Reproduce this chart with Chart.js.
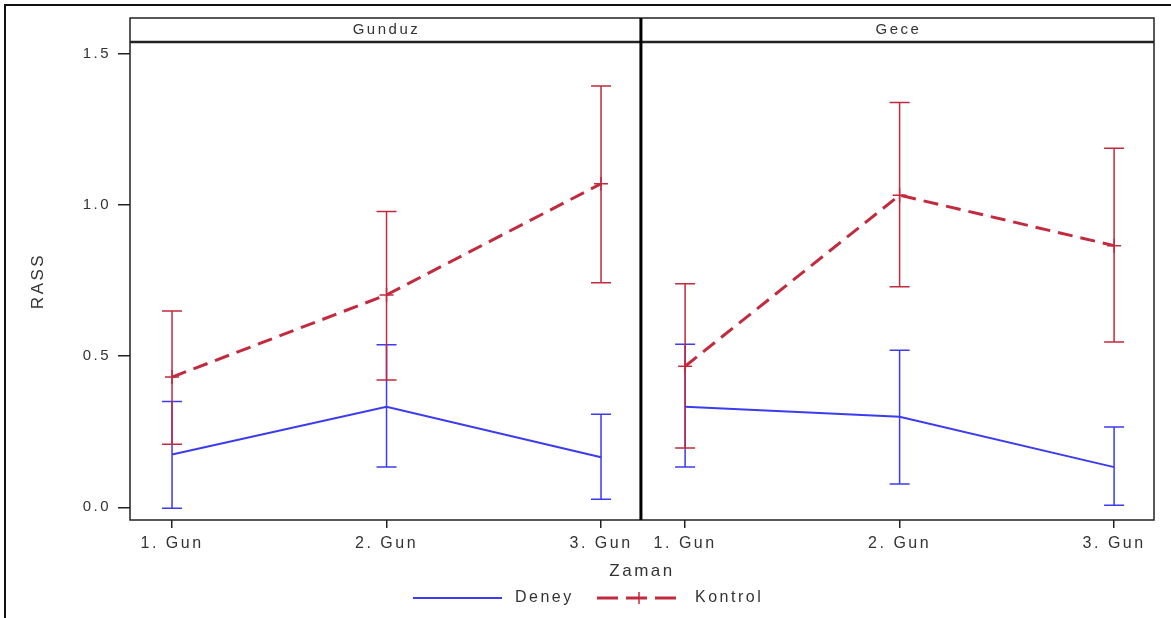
<!DOCTYPE html>
<html>
<head>
<meta charset="utf-8">
<script src="https://cdn.jsdelivr.net/npm/chart.js@4"></script>
<style>
  html, body { margin: 0; padding: 0; background: #fff; }
  #wrap { position: relative; width: 1171px; height: 618px; }
  #frame { position: absolute; left: 4px; top: 4px; width: 1170px; height: 620px;
           border-top: 2px solid #111; border-left: 2px solid #111; pointer-events: none; }
</style>
</head>
<body>
<div id="wrap">
  <canvas id="chart" width="1171" height="618"></canvas>
  <div id="frame"></div>
</div>
<script>
const categories = ['1. Gun', '2. Gun', '3. Gun'];
const panels = ['Gunduz', 'Gece'];

// means per panel (Gunduz, Gece)
const deneyMean = [[0.175, 0.333, 0.166], [0.333, 0.300, 0.133]];
const deneyLow  = [[-0.003, 0.133, 0.027], [0.133, 0.077, 0.007]];
const deneyHigh = [[0.350, 0.538, 0.308], [0.540, 0.520, 0.266]];

const kontrolMean = [[0.431, 0.703, 1.071], [0.467, 1.033, 0.866]];
const kontrolLow  = [[0.209, 0.421, 0.743], [0.196, 0.730, 0.547]];
const kontrolHigh = [[0.650, 0.979, 1.394], [0.740, 1.340, 1.188]];

const yTicks = [0, 0.5, 1.0, 1.5];

const BLUE = '#3b3bef';
const RED = '#c22a3e';
const TXT = '#333333';
const FONT = '"Liberation Sans", Arial, sans-serif';
const SPACING = '2.5px';

// second panel is shifted along the x axis
const panelShift = 2.392;
const dividerX = 2.186;
const xPos = (p, i) => i + p * panelShift;

function series(means, p) {
    return means[p].map((v, i) => ({ x: xPos(p, i), y: v }));
}

const datasets = [];
panels.forEach((name, p) => {
    datasets.push({
        label: 'Deney', data: series(deneyMean, p),
        borderColor: BLUE, borderWidth: 2, pointRadius: 0,
        low: deneyLow[p], high: deneyHigh[p], panel: p
    });
    datasets.push({
        label: 'Kontrol', data: series(kontrolMean, p),
        borderColor: RED, borderWidth: 3, borderDash: [15, 8],
        pointStyle: 'cross', pointRadius: 7, pointBorderWidth: 1.5,
        pointBorderColor: RED, pointBackgroundColor: RED,
        low: kontrolLow[p], high: kontrolHigh[p], panel: p
    });
});

const panelPlugin = {
    id: 'panels',
    beforeDraw(chart) {
        // wide SAS-style lettering for all canvas text
        chart.ctx.letterSpacing = SPACING;
    },
    beforeDatasetsDraw(chart) {
        const ctx = chart.ctx;
        const x = chart.scales.x, y = chart.scales.y;
        // error bars
        chart.data.datasets.forEach(ds => {
            ctx.save();
            ctx.strokeStyle = ds.borderColor;
            ctx.lineWidth = 1.5;
            ds.data.forEach((pt, i) => {
                const px = x.getPixelForValue(pt.x);
                const lo = y.getPixelForValue(ds.low[i]);
                const hi = y.getPixelForValue(ds.high[i]);
                ctx.beginPath();
                ctx.moveTo(px, lo); ctx.lineTo(px, hi);
                ctx.moveTo(px - 10, lo); ctx.lineTo(px + 10, lo);
                ctx.moveTo(px - 10, hi); ctx.lineTo(px + 10, hi);
                ctx.stroke();
            });
            ctx.restore();
        });
    },
    afterDraw(chart) {
        const ctx = chart.ctx;
        const a = chart.chartArea;
        const x = chart.scales.x;
        const div = x.getPixelForValue(dividerX);
        const stripTop = a.top - 24;
        ctx.save();
        ctx.letterSpacing = SPACING;
        // panel frame + header strip
        ctx.strokeStyle = '#222';
        ctx.lineWidth = 1.5;
        ctx.strokeRect(a.left, stripTop, a.right - a.left, a.bottom - stripTop);
        ctx.lineWidth = 2.5;
        ctx.beginPath();
        ctx.moveTo(a.left, a.top); ctx.lineTo(a.right, a.top);
        ctx.stroke();
        ctx.strokeStyle = '#000';
        ctx.lineWidth = 3;
        ctx.beginPath();
        ctx.moveTo(div, stripTop); ctx.lineTo(div, a.bottom);
        ctx.stroke();
        // header labels
        ctx.fillStyle = TXT;
        ctx.font = '15px ' + FONT;
        ctx.textAlign = 'center';
        ctx.textBaseline = 'middle';
        ctx.fillText(panels[0], (a.left + div) / 2 + 1, stripTop + 12);
        ctx.fillText(panels[1], (div + a.right) / 2 + 1, stripTop + 12);

        // legend
        const ly = 598;
        ctx.font = '16px ' + FONT;
        ctx.textAlign = 'left';
        ctx.strokeStyle = BLUE;
        ctx.lineWidth = 2;
        ctx.beginPath(); ctx.moveTo(413, ly); ctx.lineTo(502, ly); ctx.stroke();
        ctx.fillText('Deney', 515, ly);
        ctx.strokeStyle = RED;
        ctx.lineWidth = 3;
        ctx.setLineDash([21, 8]);
        ctx.beginPath(); ctx.moveTo(597, ly); ctx.lineTo(678, ly); ctx.stroke();
        ctx.setLineDash([]);
        ctx.lineWidth = 1.5;
        ctx.beginPath(); ctx.moveTo(639, ly - 6); ctx.lineTo(639, ly + 6); ctx.stroke();
        ctx.fillText('Kontrol', 695, ly);
        ctx.restore();
    }
};

new Chart(document.getElementById('chart'), {
    type: 'line',
    data: { datasets },
    options: {
        responsive: false,
        animation: false,
        layout: { padding: { top: 42, right: 17, left: 0, bottom: 0 } },
        plugins: { legend: { display: false }, tooltip: { enabled: false } },
        scales: {
            x: {
                type: 'linear',
                min: -0.196, max: 4.578,
                afterFit(s) { s.height = 98; },
                afterBuildTicks(s) {
                    s.ticks = panels.flatMap((_, p) => categories.map((c, i) => ({ value: xPos(p, i) })));
                },
                ticks: {
                    autoSkip: false, maxRotation: 0, padding: 6,
                    color: TXT, font: { family: FONT, size: 16 },
                    callback: (v, i) => categories[i % categories.length]
                },
                grid: { drawOnChartArea: false, tickLength: 8, color: '#222', lineWidth: 1.5 },
                border: { display: false },
                title: { display: true, text: 'Zaman', color: TXT,
                         font: { family: FONT, size: 17 }, padding: { top: 0, bottom: 36 } }
            },
            y: {
                min: -0.042, max: 1.54,
                afterFit(s) { s.width = 130; },
                afterBuildTicks(s) { s.ticks = yTicks.map(v => ({ value: v })); },
                ticks: {
                    padding: 7, color: TXT, font: { family: FONT, size: 15 },
                    callback: v => v.toFixed(1)
                },
                grid: { drawOnChartArea: false, tickLength: 12, color: '#222', lineWidth: 1.5 },
                border: { display: false },
                title: { display: true, text: 'RASS', color: TXT,
                         font: { family: FONT, size: 17 }, padding: { top: 28, bottom: 0 } }
            }
        }
    },
    plugins: [panelPlugin]
});
</script>
</body>
</html>
